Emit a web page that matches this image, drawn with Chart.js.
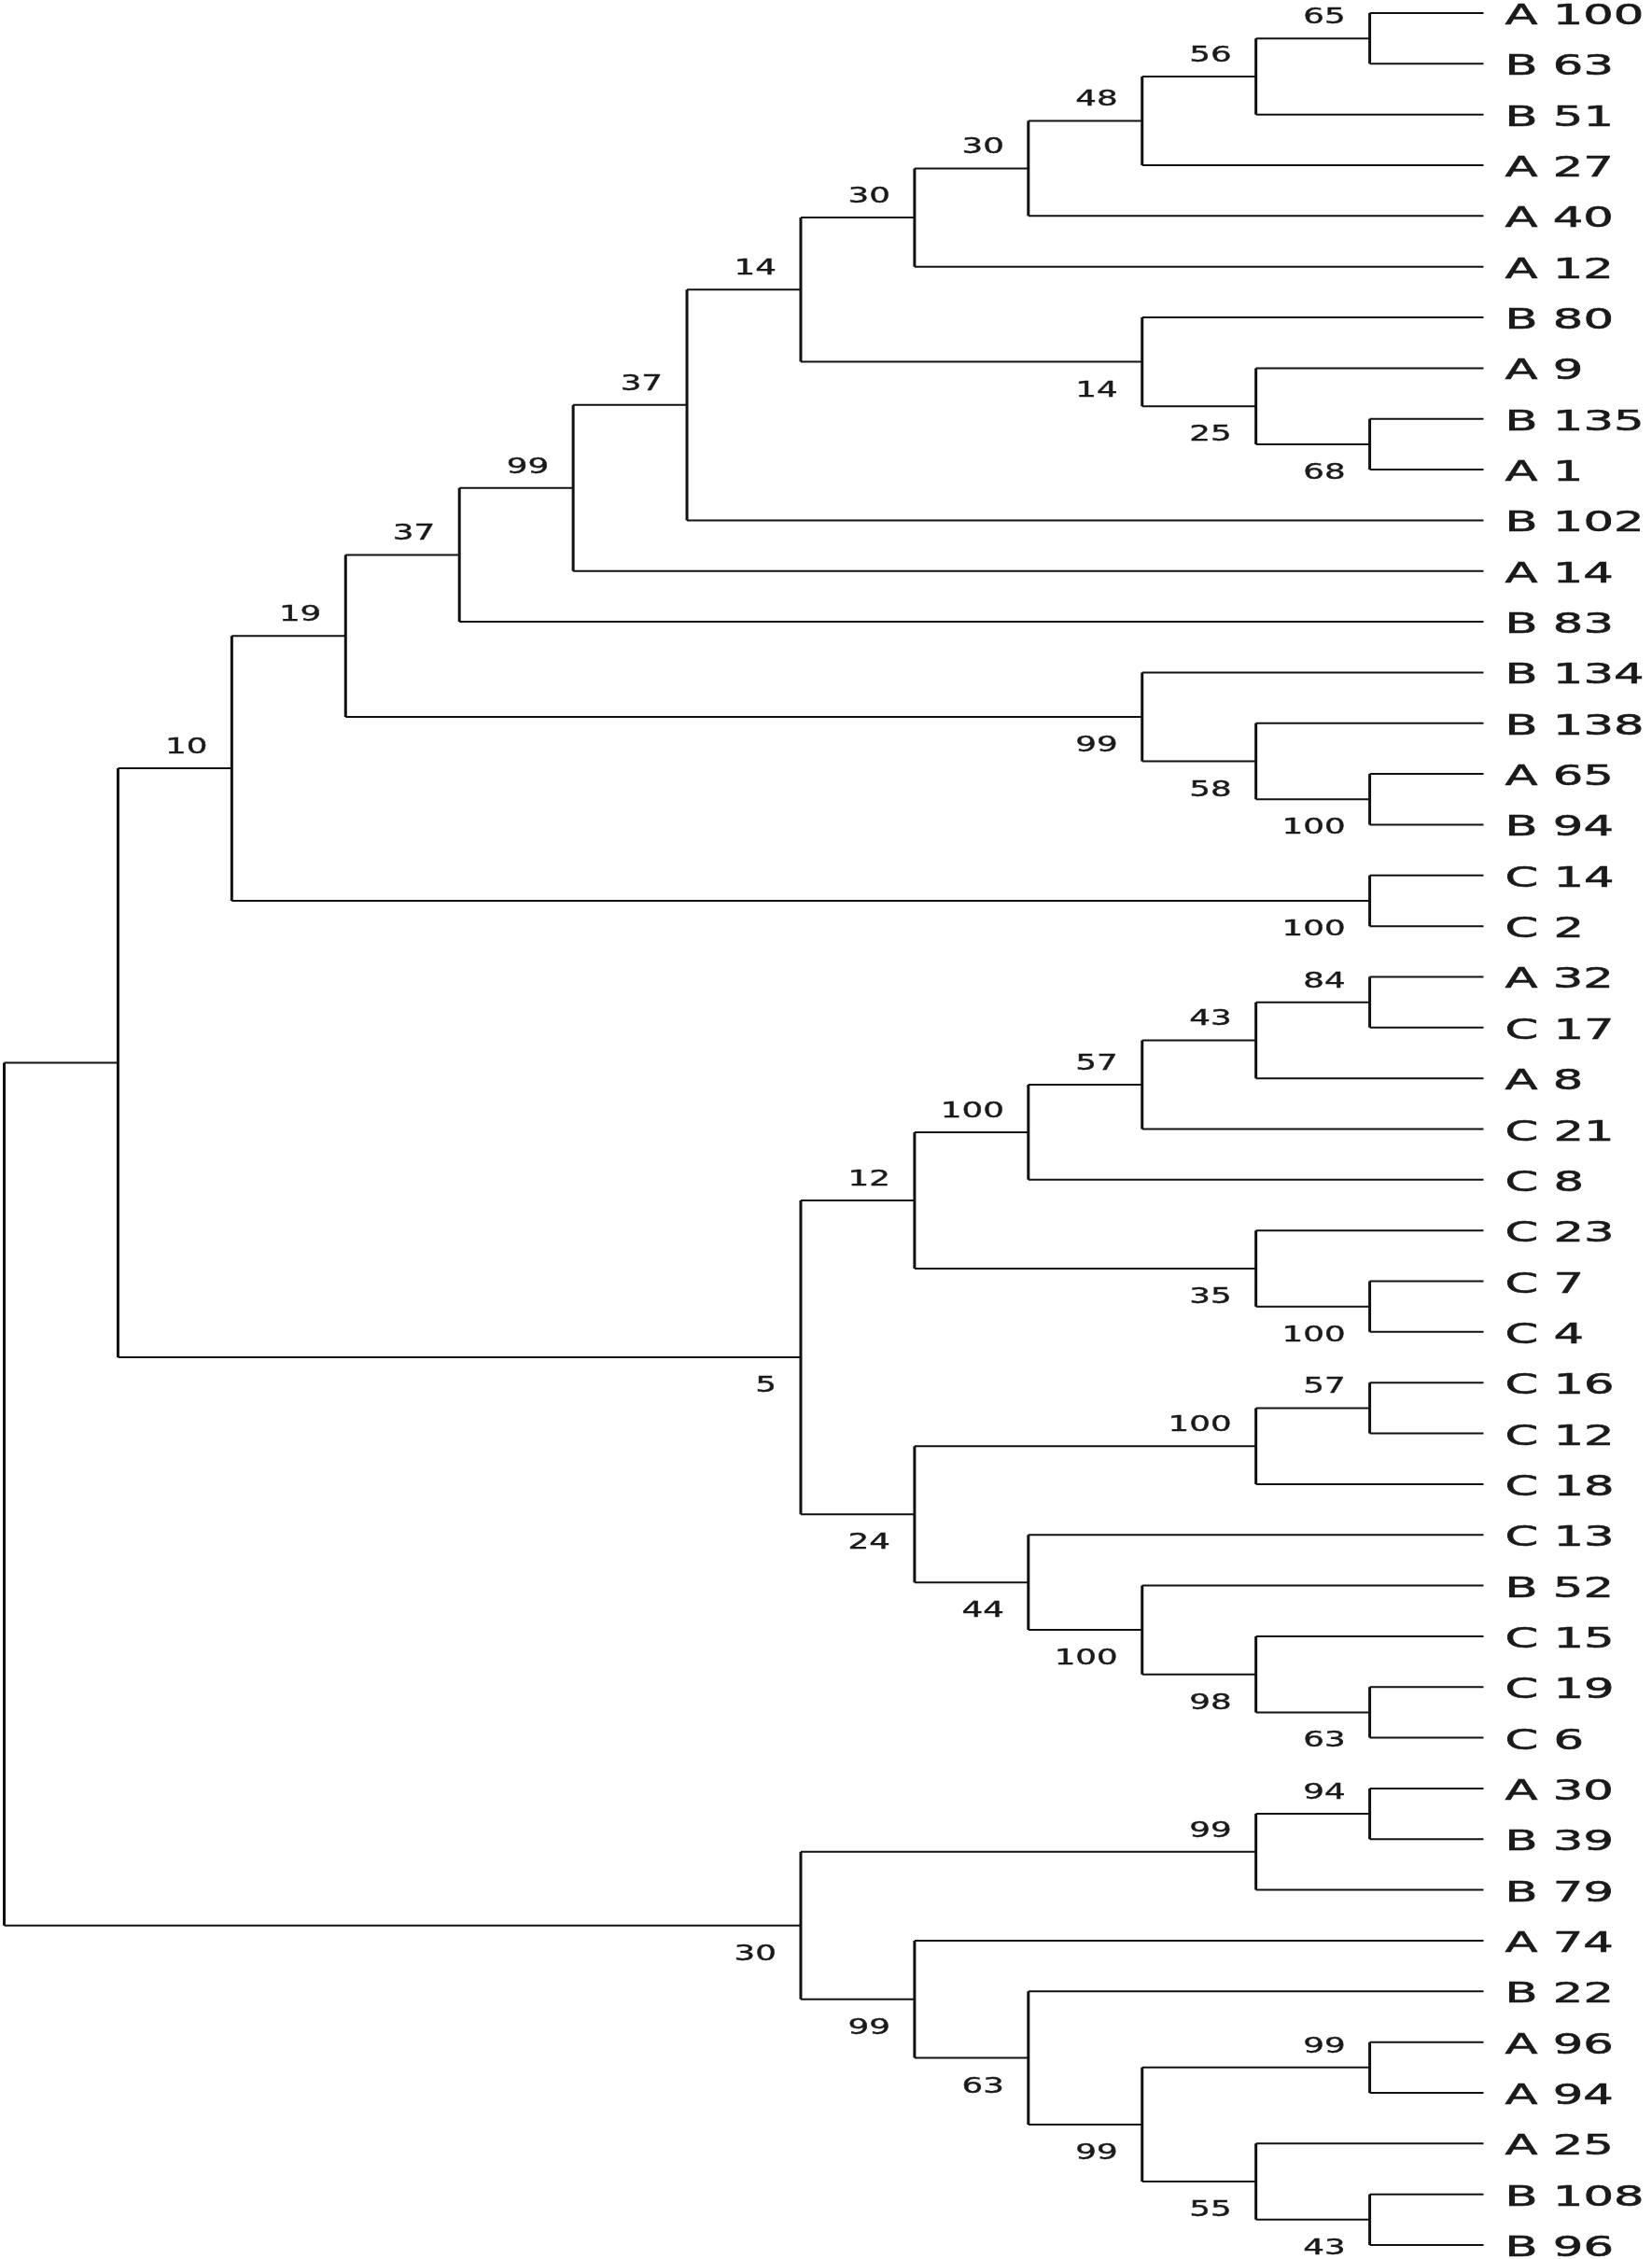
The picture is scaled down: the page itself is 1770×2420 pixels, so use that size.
<!DOCTYPE html>
<html>
<head>
<meta charset="utf-8">
<script src="https://cdn.jsdelivr.net/npm/chart.js@4.4.1/dist/chart.umd.min.js"></script>
<style>
  html, body { margin: 0; padding: 0; background: #fff; }
  #tree { display: block; }
</style>
</head>
<body>
<canvas id="tree" width="1770" height="2420"></canvas>
<script>
/* dendrogram: leaves top to bottom, internal nodes as parallel arrays */
var leafNames = ['A 100', 'B 63', 'B 51', 'A 27', 'A 40', 'A 12', 'B 80', 'A 9', 'B 135', 'A 1',
  'B 102', 'A 14', 'B 83', 'B 134', 'B 138', 'A 65', 'B 94', 'C 14', 'C 2', 'A 32',
  'C 17', 'A 8', 'C 21', 'C 8', 'C 23', 'C 7', 'C 4', 'C 16', 'C 12', 'C 18',
  'C 13', 'B 52', 'C 15', 'C 19', 'C 6', 'A 30', 'B 39', 'B 79', 'A 74', 'B 22',
  'A 96', 'A 94', 'A 25', 'B 108', 'B 96'];
var LEAF_LEVEL = 13;

var nodeIds = ['root', 'n1', 'n10', 'n19', 'n37a', 'n99a', 'n37b', 'n14a', 'n30a', 'n30b',
  'n48', 'n56', 'n65', 'n14b', 'n25', 'n68', 'n99b', 'n58', 'n100a', 'n100f',
  'n5', 'n12', 'n100b', 'n57a', 'n43a', 'n84', 'n35', 'n100c', 'n24', 'n100d',
  'n57b', 'n44', 'n100e', 'n98', 'n63a', 'n30c', 'n99c', 'n94', 'n99d', 'n63b',
  'n99e', 'n99f', 'n55', 'n43b'];
var nodeLevels = [0, 1, 2, 3, 4, 5, 6, 7, 8, 9,
  10, 11, 12, 10, 11, 12, 10, 11, 12, 12,
  7, 8, 9, 10, 11, 12, 11, 12, 8, 11,
  12, 9, 10, 11, 12, 7, 11, 12, 8, 9,
  10, 12, 11, 12];
var nodeSupport = ['', '', '10', '19', '37', '99', '37', '14', '30', '30',
  '48', '56', '65', '14', '25', '68', '99', '58', '100', '100',
  '5', '12', '100', '57', '43', '84', '35', '100', '24', '100',
  '57', '44', '100', '98', '63', '30', '99', '94', '99', '63',
  '99', '99', '55', '43'];
var nodeUpper = ['n1', 'n10', 'n19', 'n37a', 'n99a', 'n37b', 'n14a', 'n30a', 'n30b', 'n48',
  'n56', 'n65', 'A 100', 'B 80', 'A 9', 'B 135', 'B 134', 'B 138', 'A 65', 'C 14',
  'n12', 'n100b', 'n57a', 'n43a', 'n84', 'A 32', 'C 23', 'C 7', 'n100d', 'n57b',
  'C 16', 'C 13', 'B 52', 'C 15', 'C 19', 'n99c', 'n94', 'A 30', 'A 74', 'B 22',
  'n99f', 'A 96', 'A 25', 'B 108'];
var nodeLower = ['n30c', 'n5', 'n100f', 'n99b', 'B 83', 'A 14', 'B 102', 'n14b', 'A 12', 'A 40',
  'A 27', 'B 51', 'B 63', 'n25', 'n68', 'A 1', 'n58', 'n100a', 'B 94', 'C 2',
  'n24', 'n35', 'C 8', 'C 21', 'A 8', 'C 17', 'n100c', 'C 4', 'n44', 'C 18',
  'C 12', 'n100e', 'n98', 'n63a', 'C 6', 'n99d', 'B 79', 'B 39', 'n63b', 'n99e',
  'n55', 'A 94', 'n43b', 'B 96'];

// ---- layout helpers ----
function levelOf(name) {
  var k = nodeIds.indexOf(name);
  return k < 0 ? LEAF_LEVEL : nodeLevels[k];
}
function rowOf(name) {
  var k = nodeIds.indexOf(name);
  if (k < 0) return leafNames.indexOf(name);
  return (rowOf(nodeUpper[k]) + rowOf(nodeLower[k])) / 2;
}

var hSegs = [], vSegs = [];
nodeIds.forEach(function (id, k) {
  var lv = nodeLevels[k];
  var yu = rowOf(nodeUpper[k]), yl = rowOf(nodeLower[k]);
  vSegs.push({ x: lv, y: yu }, { x: lv, y: yl }, { x: lv, y: null });
  hSegs.push({ x: lv, y: yu }, { x: levelOf(nodeUpper[k]), y: yu }, { x: lv, y: null });
  hSegs.push({ x: lv, y: yl }, { x: levelOf(nodeLower[k]), y: yl }, { x: lv, y: null });
});

// support label sits above the branch of an upper child, below for a lower child
var isLower = {};
nodeLower.forEach(function (c) { isLower[c] = true; });

function stretchedText(ctx, txt, px, py, sx) {
  ctx.save();
  ctx.translate(px, py);
  ctx.scale(sx, 1);
  ctx.fillText(txt, 0, 0);
  ctx.strokeText(txt, 0, 0);
  ctx.restore();
}

var labelPlugin = {
  id: 'treeLabels',
  afterDatasetsDraw: function (chart) {
    var ctx = chart.ctx, xs = chart.scales.x, ys = chart.scales.y;
    ctx.save();
    ctx.fillStyle = '#1a1a1a';
    ctx.strokeStyle = '#1a1a1a';
    ctx.lineWidth = 0.6;
    ctx.textBaseline = 'alphabetic';

    ctx.font = '31px "DejaVu Sans"';
    ctx.textAlign = 'left';
    leafNames.forEach(function (name, i) {
      stretchedText(ctx, name, xs.getPixelForValue(LEAF_LEVEL) + 23, ys.getPixelForValue(i) + 12, 1.65);
    });

    ctx.font = '23px "DejaVu Sans"';
    ctx.textAlign = 'right';
    ctx.lineWidth = 0.4;
    nodeIds.forEach(function (id, k) {
      if (!nodeSupport[k]) return;
      var px = xs.getPixelForValue(nodeLevels[k]) - 26;
      var py = ys.getPixelForValue(rowOf(id));
      stretchedText(ctx, nodeSupport[k], px, isLower[id] ? py + 37 : py - 16, 1.55);
    });
    ctx.restore();
  }
};

new Chart(document.getElementById('tree'), {
  type: 'line',
  data: {
    datasets: [
      { data: hSegs, borderColor: '#111', borderWidth: 2, pointRadius: 0, tension: 0, spanGaps: false, clip: false },
      { data: vSegs, borderColor: '#111', borderWidth: 3, pointRadius: 0, tension: 0, spanGaps: false, clip: false }
    ]
  },
  options: {
    responsive: false, animation: false, devicePixelRatio: 1,
    parsing: false,
    layout: { padding: { left: 4.5, right: 180.5, top: 14, bottom: 15 } },
    scales: {
      x: { type: 'linear', min: 0, max: LEAF_LEVEL, display: false },
      y: { type: 'linear', min: 0, max: leafNames.length - 1, reverse: true, display: false }
    },
    plugins: { legend: { display: false }, tooltip: { enabled: false } }
  },
  plugins: [labelPlugin]
});
</script>
</body>
</html>
